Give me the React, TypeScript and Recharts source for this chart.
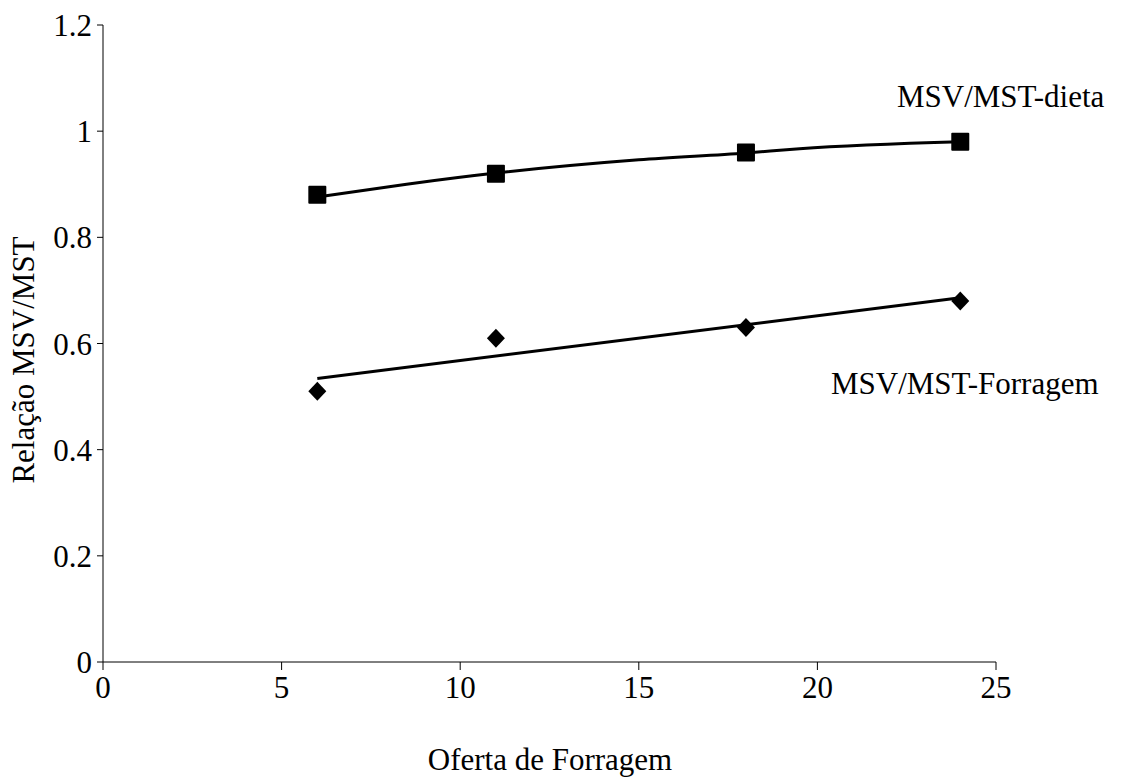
import React from 'react';
import { ComposedChart, Scatter, Line, XAxis, YAxis, Label } from 'recharts';

// pontos observados
const ofertaX = [6, 11, 18, 24];
const dietaY = [0.88, 0.92, 0.96, 0.98];
const forragemY = [0.51, 0.61, 0.63, 0.68];

// linhas de tendência
const tendDietaX = [6, 8.5, 11, 15, 18, 19.5, 24];
const tendDietaY = [0.876, 0.9, 0.921, 0.946, 0.959, 0.967, 0.98];
const tendForragemX = [6, 24];
const tendForragemY = [0.534, 0.686];

const xTicks = [0, 5, 10, 15, 20, 25];
const yTicks = [0, 0.2, 0.4, 0.6, 0.8, 1, 1.2];

const dietaPts = ofertaX.map((x, i) => ({ x, y: dietaY[i] }));
const forragemPts = ofertaX.map((x, i) => ({ x, y: forragemY[i] }));
const dietaLinha = tendDietaX.map((x, i) => ({ x, y: tendDietaY[i] }));
const forragemLinha = tendForragemX.map((x, i) => ({ x, y: tendForragemY[i] }));

const font = '"Liberation Serif", "DejaVu Serif", serif';
const fs = 31;
const tickStyle = { fill: '#000', fontSize: fs, fontFamily: font };

const Quadrado = (props: any) => {
  const { cx, cy } = props;
  return <rect x={cx - 9} y={cy - 9} width={18} height={18} rx={1} fill="#000" />;
};

const Losango = (props: any) => {
  const { cx, cy } = props;
  return <path d={`M${cx},${cy - 9.5} L${cx + 9},${cy} L${cx},${cy + 9.5} L${cx - 9},${cy} Z`} fill="#000" />;
};

const App = () => {
  return (
    <div style={{ position: 'absolute', left: 0, top: 0, width: 1128, height: 780, background: '#fff' }}>
      <ComposedChart width={1128} height={780} margin={{ top: 25, right: 132, left: 0, bottom: 0 }}>
        <XAxis
          type="number"
          dataKey="x"
          domain={[0, 25]}
          ticks={xTicks}
          tick={tickStyle}
          stroke="#000"
          tickSize={8}
          tickMargin={6}
          height={118}
          allowDuplicatedCategory={false}
        >
          <Label
            content={() => (
              <text
                x={550}
                y={763}
                textAnchor="middle"
                dominantBaseline="middle"
                style={{ fill: '#000', fontSize: fs, fontFamily: font }}
              >
                Oferta de Forragem
              </text>
            )}
          />
        </XAxis>
        <YAxis
          type="number"
          dataKey="y"
          domain={[0, 1.2]}
          ticks={yTicks}
          tick={tickStyle}
          stroke="#000"
          tickSize={6}
          tickMargin={5}
          width={103}
        >
          <Label
            content={() => (
              <text
                x={27}
                y={360}
                transform="rotate(-90, 27, 360)"
                textAnchor="middle"
                dominantBaseline="middle"
                style={{ fill: '#000', fontSize: fs, fontFamily: font }}
              >
                Relação MSV/MST
              </text>
            )}
          />
        </YAxis>
        <Line data={dietaLinha} dataKey="y" type="monotone" stroke="#000" strokeWidth={3} dot={false} isAnimationActive={false} />
        <Line data={forragemLinha} dataKey="y" type="linear" stroke="#000" strokeWidth={3} dot={false} isAnimationActive={false} />
        <Scatter data={dietaPts} dataKey="y" shape={Quadrado} isAnimationActive={false} />
        <Scatter data={forragemPts} dataKey="y" shape={Losango} isAnimationActive={false} />
      </ComposedChart>
      <div style={{ position: 'absolute', left: 897, top: 79, fontFamily: font, fontSize: fs, lineHeight: '36px', color: '#000', whiteSpace: 'nowrap' }}>
        MSV/MST-dieta
      </div>
      <div style={{ position: 'absolute', left: 831, top: 366, fontFamily: font, fontSize: fs, lineHeight: '36px', color: '#000', whiteSpace: 'nowrap' }}>
        MSV/MST-Forragem
      </div>
    </div>
  );
};

export default App;
